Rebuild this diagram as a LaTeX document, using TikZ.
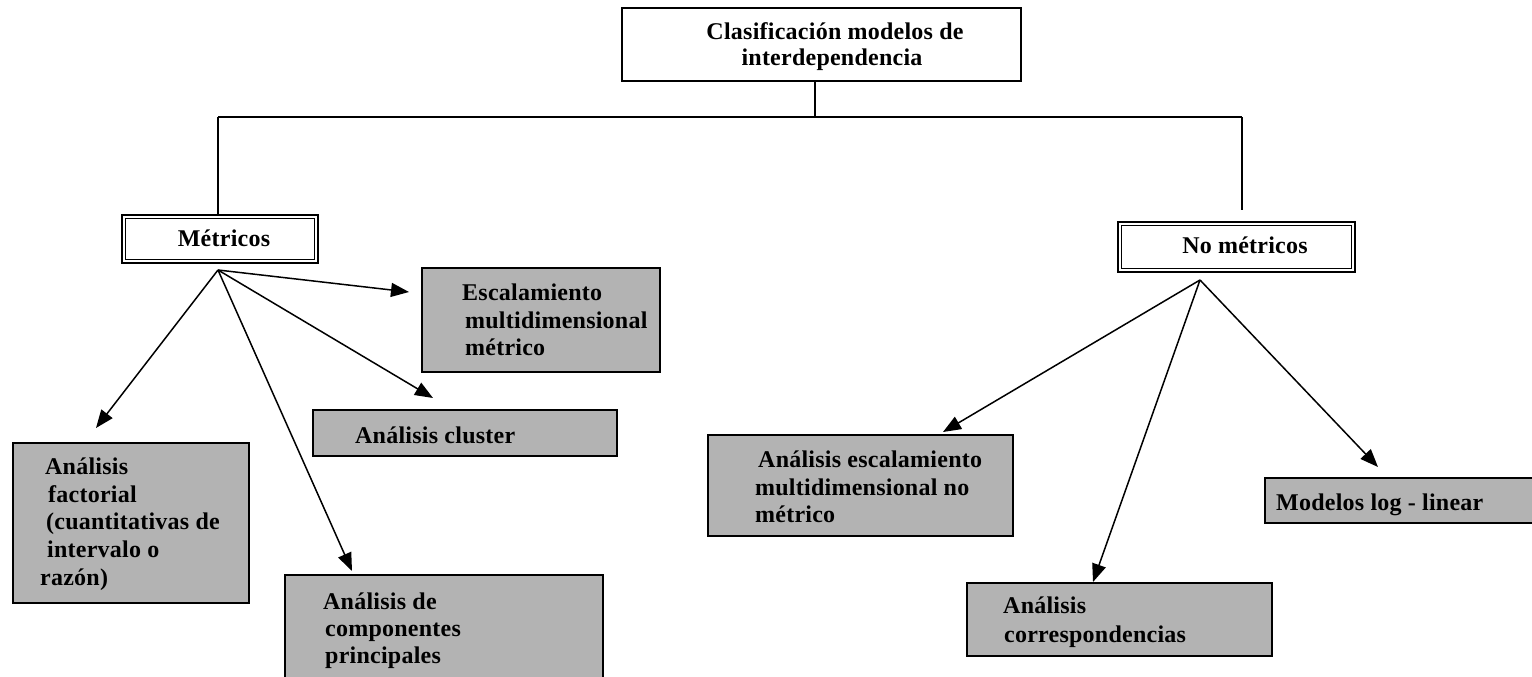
\documentclass[tikz,border=0pt]{standalone}
\usepackage{fontspec}
\setmainfont{Liberation Serif}[LetterSpace=1]
\usetikzlibrary{arrows.meta}
\definecolor{boxgray}{RGB}{179,179,179}
\begin{document}
\begin{tikzpicture}[x=1pt,y=-1pt,
  txt/.style={inner sep=0pt, font=\bfseries\fontsize{24}{28}\selectfont, anchor=base west},
  ctxt/.style={txt, anchor=base},
  gbox/.style={draw, line width=1.8pt, fill=boxgray, inner sep=0pt},
  wbox/.style={draw, line width=1.8pt, fill=white, inner sep=0pt},
  dbox/.style={draw, line width=2.6pt, fill=white, inner sep=0pt},
  inner/.style={line width=1pt},
  conn/.style={line width=1.6pt},
  arr/.style={line width=1.5pt, -{Triangle[length=18pt,width=14pt]}}]
\useasboundingbox (0,0) rectangle (1532,677);
\clip (0,0) rectangle (1532,677);

% top box
\node[wbox, minimum width=399pt, minimum height=73pt] (top) at (821.5,44.5) {};
\node[ctxt] (top1) at (835,40) {Clasificación modelos de};
\node[ctxt] (top2) at (832,66) {interdependencia};

% double boxes
\node[dbox, minimum width=196pt, minimum height=48pt] (met) at (220,239) {};
\draw[inner] ([shift={(4.5pt,-4.5pt)}]met.north west) rectangle ([shift={(-4.5pt,4.5pt)}]met.south east);
\node[ctxt] (mett) at (224,246) {Métricos};

\node[dbox, minimum width=237pt, minimum height=50pt] (nom) at (1236.5,247) {};
\draw[inner] ([shift={(4.5pt,-4.5pt)}]nom.north west) rectangle ([shift={(-4.5pt,4.5pt)}]nom.south east);
\node[ctxt] (nomt) at (1245,253) {No métricos};

% gray boxes
\node[gbox, minimum width=238pt, minimum height=104pt] (esc) at (541,320) {};
\node[txt] (esc1) at (462,300) {Escalamiento};
\node[txt] (esc2) at (465,328) {multidimensional};
\node[txt] (esc3) at (465,355) {métrico};

\node[gbox, minimum width=304pt, minimum height=46pt] (clu) at (465,433) {};
\node[txt] (clu1) at (355,443) {Análisis cluster};

\node[gbox, minimum width=236pt, minimum height=160pt] (fac) at (131,523) {};
\node[txt] (fac1) at (45,474) {Análisis};
\node[txt] (fac2) at (48,502) {factorial};
\node[txt] (fac3) at (46,529) {(cuantitativas de};
\node[txt] (fac4) at (47,557) {intervalo o};
\node[txt] (fac5) at (40,585) {razón)};

\node[gbox, minimum width=318pt, minimum height=125pt] (com) at (444,637.5) {};
\node[txt] (com1) at (323,609) {Análisis de};
\node[txt] (com2) at (325,636) {componentes};
\node[txt] (com3) at (325,663) {principales};

\node[gbox, minimum width=305pt, minimum height=101pt] (emn) at (860.5,485.5) {};
\node[txt] (emn1) at (758,467) {Análisis escalamiento};
\node[txt] (emn2) at (755,495) {multidimensional no};
\node[txt] (emn3) at (755,522) {métrico};

\node[gbox, minimum width=305pt, minimum height=73pt] (cor) at (1119.5,619.5) {};
\node[txt] (cor1) at (1003,613) {Análisis};
\node[txt] (cor2) at (1004,642) {correspondencias};

\node[gbox, minimum width=280pt, minimum height=45pt] (mod) at (1405,500.5) {};
\node[txt] (mod1) at (1276,510) {Modelos log - linear};

% tree connectors
\coordinate (j) at (815,117);
\coordinate (jl) at (218,117);
\coordinate (jr) at (1242,117);
\coordinate (jre) at (1242,210);
\draw[conn] (top.south -| j) -- (j);
\draw[conn] (jl) -- (jr);
\draw[conn] (jl) -- (met.north -| jl);
\draw[conn] (jr) -- (jre);

% arrows
\coordinate (mo) at (218,270);
\coordinate (no) at (1200,280);
\coordinate (tfac) at (96,428);
\coordinate (tcom) at (352,571);
\coordinate (tclu) at (433,398);
\coordinate (tesc) at (409,292);
\coordinate (temn) at (943,432);
\coordinate (tcor) at (1093,582);
\coordinate (tmod) at (1378,467);
\draw[arr] (mo) -- (tfac);
\draw[arr] (mo) -- (tcom);
\draw[arr] (mo) -- (tclu);
\draw[arr] (mo) -- (tesc);
\draw[arr] (no) -- (temn);
\draw[arr] (no) -- (tcor);
\draw[arr] (no) -- (tmod);
\end{tikzpicture}
\end{document}
